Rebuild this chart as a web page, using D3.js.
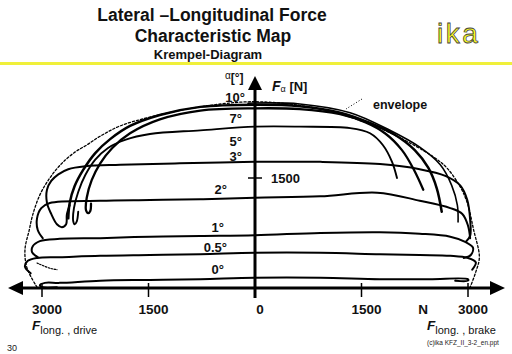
<!DOCTYPE html>
<html>
<head>
<meta charset="utf-8">
<script src="https://cdn.jsdelivr.net/npm/d3@7"></script>
<style>
  html, body { margin: 0; padding: 0; background: #fff; }
  svg { display: block; font-family: "Liberation Sans", Arial, sans-serif; }
</style>
</head>
<body>
<div id="chart"></div>
<script>
// Krempel diagram: lateral force F_alpha [N] vs longitudinal force [N]
// negative Flong = drive side (left), positive = brake side (right)

const xTicks = [-3000, -1500, 0, 1500, 3000];
const xTickLabels = ['3000', '1500', '0', '1500', '3000'];
const yTicks = [1500];
const yTickLabels = ['1500'];

const alphaLabels = ['10°', '7°', '5°', '3°', '2°', '1°', '0.5°', '0°'];

// curves of constant slip angle, [Flong, Falpha]
const alpha0 = [[-2790, 10], [-2990, 10], [-3030, 40], [-2960, 70], [-2750, 70], [-2180, 100], [-1480, 110], [-770, 120], [0, 140], [920, 140], [1760, 120], [2460, 120], [3000, 120], [3000, 100], [2820, 100]];
const alpha05 = [[-3160, 200], [-3240, 290], [-3200, 370], [-3070, 410], [-2750, 420], [-2180, 440], [-1480, 450], [-770, 460], [0, 480], [920, 480], [1760, 460], [2320, 450], [2750, 440], [3000, 410], [3110, 350], [3060, 250]];
const alpha05Tail = [[-3070, 340], [-2890, 270], [-2790, 250]];
const alpha1 = [[-3060, 420], [-3140, 490], [-3130, 570], [-3030, 640], [-2750, 670], [-2180, 680], [-1480, 700], [-770, 710], [0, 720], [920, 750], [1760, 760], [2320, 740], [2750, 700], [2960, 630], [3070, 550], [3040, 450], [2940, 410]];
const alpha2 = [[-2990, 680], [-3060, 790], [-3070, 950], [-3010, 1090], [-2890, 1160], [-2180, 1190], [-1480, 1200], [-770, 1210], [0, 1230], [920, 1250], [1720, 1300], [2320, 1190], [2750, 1090], [2920, 1010], [3000, 850], [3030, 680]];
const alpha3 = [[-2610, 1130], [-2650, 1000], [-2660, 870], [-2720, 830], [-2790, 870], [-2870, 1010], [-2930, 1160], [-2930, 1340], [-2870, 1460], [-2770, 1550], [-2630, 1620], [-2390, 1660], [-1900, 1680], [-1060, 1700], [0, 1720], [920, 1720], [1760, 1690], [2320, 1620], [2680, 1530], [2890, 1400], [2990, 1200], [3030, 930], [3030, 710], [2970, 630]];
const alpha5 = [[-2490, 1040], [-2510, 910], [-2540, 870], [-2560, 910], [-2550, 1090], [-2490, 1310], [-2390, 1540], [-2250, 1750], [-2070, 1910], [-1830, 2020], [-1480, 2100], [-770, 2150], [0, 2200], [630, 2200], [1340, 2180], [1620, 2110], [1800, 1950], [1930, 1720], [2000, 1500]];
const alpha7 = [[-2310, 1150], [-2320, 1050], [-2350, 1020], [-2380, 1060], [-2370, 1230], [-2300, 1470], [-2180, 1700], [-2010, 1910], [-1760, 2110], [-1340, 2300], [-770, 2420], [0, 2450], [630, 2440], [1200, 2370], [1550, 2260], [1830, 2110], [2070, 1880], [2240, 1610], [2370, 1340]];
const alpha10 = [[-2630, 950], [-2610, 1160], [-2540, 1390], [-2420, 1610], [-2250, 1840], [-2040, 2030], [-1760, 2210], [-1340, 2360], [-770, 2470], [0, 2500], [630, 2480], [1200, 2390], [1620, 2250], [1970, 2090], [2250, 1880], [2440, 1640], [2560, 1360], [2630, 1040]];
const alphaEdge = [[-100, 2520], [630, 2510], [1340, 2390], [1900, 2150], [2320, 1920], [2610, 1680], [2770, 1400], [2850, 1130], [2860, 900]];

// dotted envelope
const envelope = [[-3070, 10], [-3210, 270], [-3240, 520], [-3180, 790], [-3130, 1000], [-3030, 1270], [-2890, 1500], [-2720, 1700], [-2540, 1850], [-2370, 1950], [-2180, 2070], [-1900, 2210], [-1480, 2330], [-770, 2470], [0, 2540], [870, 2450], [1580, 2250], [2040, 2050], [2510, 1790], [2700, 1640], [2890, 1380], [2990, 1160], [3080, 790], [3160, 420], [3110, 220], [3030, 10]];

const W = 512, H = 354;
const svg = d3.select('#chart').append('svg')
    .attr('width', W).attr('height', H)
    .attr('viewBox', `0 0 ${W} ${H}`);

const x = d3.scaleLinear().domain([-3000, 3000]).range([42, 468]);
const y = d3.scaleLinear().domain([0, 1500]).range([288, 178]);

// ---- header
const title = svg.append('g').attr('font-weight', 'bold').attr('text-anchor', 'middle').attr('fill', '#111');
title.append('text').attr('x', 212).attr('y', 21).attr('font-size', '17.5px').text('Lateral –Longitudinal Force');
title.append('text').attr('x', 213).attr('y', 42).attr('font-size', '17.5px').text('Characteristic Map');
title.append('text').attr('x', 208).attr('y', 59).attr('font-size', '13px').text('Krempel-Diagram');

svg.append('rect').attr('x', 0).attr('y', 62).attr('width', W).attr('height', 3).attr('fill', '#f0f03a');

svg.append('text')
    .attr('x', 437).attr('y', 43)
    .attr('font-size', '28px')
    .attr('letter-spacing', '2.5px')
    .attr('fill', '#ffff20')
    .attr('stroke', '#444')
    .attr('stroke-width', 0.8)
    .text('ika');

// ---- curves
const line = d3.line()
    .x(d => x(d[0]))
    .y(d => y(d[1]))
    .curve(d3.curveCatmullRom.alpha(0.5));

const plot = svg.append('g').attr('fill', 'none').attr('stroke', '#000').attr('stroke-linejoin', 'round').attr('stroke-linecap', 'round');

plot.append('path').attr('d', line(envelope))
    .attr('stroke-width', 1.3).attr('stroke-dasharray', '2.2,2');

const curves = [
    { pts: alpha0, w: 2 },
    { pts: alpha05, w: 2 },
    { pts: alpha1, w: 2 },
    { pts: alpha2, w: 2 },
    { pts: alpha3, w: 2 },
    { pts: alpha5, w: 1.9 },
    { pts: alpha7, w: 2.3 },
    { pts: alpha10, w: 2.5 },
    { pts: alphaEdge, w: 1.6 }
];
curves.forEach(c => {
    plot.append('path').attr('d', line(c.pts)).attr('stroke-width', c.w);
});
plot.append('path').attr('d', line(alpha05Tail))
    .attr('stroke-width', 1.2).attr('stroke-dasharray', '1.5,1.5');

// ---- axes
const axes = svg.append('g').attr('stroke', '#000');
const x0 = x(0), y0 = y(0);
axes.append('line').attr('x1', 20).attr('x2', 494).attr('y1', y0).attr('y2', y0).attr('stroke-width', 3);
axes.append('line').attr('x1', x0).attr('x2', x0).attr('y1', 298).attr('y2', 88).attr('stroke-width', 3);

axes.append('path').attr('d', `M8,${y0} L23,${y0 - 7} L23,${y0 + 7} Z`).attr('fill', '#000').attr('stroke', 'none');
axes.append('path').attr('d', `M505,${y0} L490,${y0 - 7} L490,${y0 + 7} Z`).attr('fill', '#000').attr('stroke', 'none');
axes.append('path').attr('d', `M${x0},76 L${x0 - 7},90 L${x0 + 7},90 Z`).attr('fill', '#000').attr('stroke', 'none');

axes.selectAll('.xtick').data(xTicks).join('line')
    .attr('class', 'xtick')
    .attr('x1', d => x(d)).attr('x2', d => x(d))
    .attr('y1', y0 - 5).attr('y2', y0 + 9)
    .attr('stroke-width', 1.5);
axes.selectAll('.ytick').data(yTicks).join('line')
    .attr('class', 'ytick')
    .attr('x1', x0 - 7).attr('x2', x0 + 7)
    .attr('y1', d => y(d)).attr('y2', d => y(d))
    .attr('stroke-width', 1.5);

const labels = svg.append('g').attr('fill', '#111').attr('font-weight', 'bold');
labels.selectAll('.xlab').data(xTicks).join('text')
    .attr('class', 'xlab')
    .attr('x', d => x(d) + 5).attr('y', 314)
    .attr('text-anchor', 'middle').attr('font-size', '13.5px')
    .text((d, i) => xTickLabels[i]);
labels.append('text').attr('x', 423).attr('y', 314).attr('text-anchor', 'middle').attr('font-size', '13.5px').text('N');

labels.selectAll('.ylab').data(yTicks).join('text')
    .attr('class', 'ylab')
    .attr('x', x0 + 16).attr('y', d => y(d) + 5)
    .attr('font-size', '13px')
    .text((d, i) => yTickLabels[i]);

// slip angle labels
const alphaLabelPos = [[245, 102], [242, 123], [242, 146], [242, 161], [227, 194], [224, 232], [227, 252], [224, 274]];
labels.selectAll('.alab').data(alphaLabels).join('text')
    .attr('class', 'alab')
    .attr('x', (d, i) => alphaLabelPos[i][0]).attr('y', (d, i) => alphaLabelPos[i][1])
    .attr('text-anchor', 'end').attr('font-size', '13px')
    .text(d => d);

// axis titles
const yt = labels.append('text').attr('x', 225).attr('y', 82);
yt.append('tspan').attr('font-weight', 'normal').attr('font-size', '10px').attr('dy', -3).text('α');
yt.append('tspan').attr('font-size', '12px').attr('dy', 3).text('[°]');

const ft = labels.append('text').attr('x', 272).attr('y', 91);
ft.append('tspan').attr('font-style', 'italic').attr('font-size', '14px').text('F');
ft.append('tspan').attr('font-weight', 'normal').attr('font-size', '9px').attr('dy', 1).text('α');
ft.append('tspan').attr('font-size', '13px').attr('dy', -1).text(' [N]');

labels.append('text').attr('x', 373).attr('y', 109).attr('font-size', '12.5px').text('envelope');
svg.append('line').attr('x1', 362).attr('y1', 99).attr('x2', 346).attr('y2', 109)
    .attr('stroke', '#000').attr('stroke-width', 1).attr('stroke-dasharray', '1,2');

const fl = labels.append('text').attr('x', 32).attr('y', 330);
fl.append('tspan').attr('font-style', 'italic').attr('font-size', '13.5px').text('F');
fl.append('tspan').attr('font-weight', 'normal').attr('font-size', '11px').attr('dy', 4).text('long. , drive');

const fb = labels.append('text').attr('x', 427).attr('y', 330);
fb.append('tspan').attr('font-style', 'italic').attr('font-size', '13.5px').text('F');
fb.append('tspan').attr('font-weight', 'normal').attr('font-size', '11px').attr('dy', 4).text('long. , brake');

svg.append('text').attr('x', 7).attr('y', 351).attr('font-size', '9px').attr('fill', '#222').text('30');
svg.append('text').attr('x', 427).attr('y', 345).attr('font-size', '6.5px').attr('fill', '#222').text('(c)ika  KFZ_II_3-2_en.ppt');
</script>
</body>
</html>
